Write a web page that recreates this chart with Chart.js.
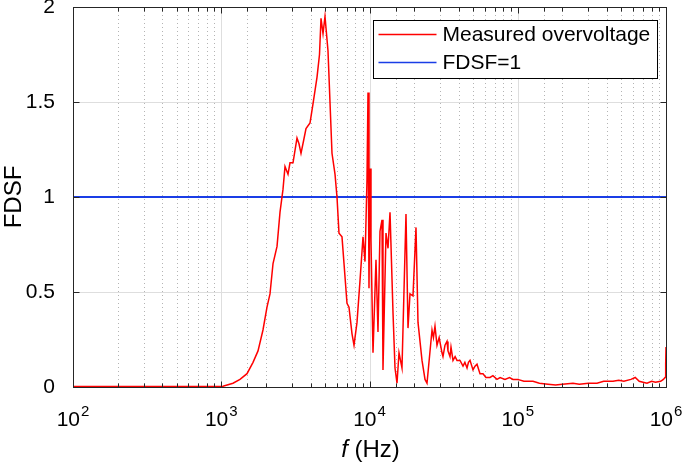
<!DOCTYPE html>
<html>
<head>
<meta charset="utf-8">
<script src="https://cdn.jsdelivr.net/npm/chart.js@4"></script>
<style>
  html, body { margin:0; padding:0; background:#fff; }
  #wrap { position:relative; width:685px; height:462px; }
</style>
</head>
<body>
<div id="wrap"><canvas id="fdsf" width="685" height="462"></canvas></div>
<script>
// ===== FDSF vs frequency =====

const FREQ_HZ = [
  100, 200, 400, 700, 900, 1000, 1027, 1200, 1338, 1492, 1638, 1770, 1912, 2035, 2132, 2235,
  2378, 2491, 2609, 2692, 2820, 2909, 3048, 3243, 3345, 3451, 3600, 3730, 3970, 4158, 4424,
  4600, 4709, 4858, 5010, 5248, 5585, 5852, 6036, 6226, 6523, 6730, 7050, 7272, 7621, 7862,
  8236, 8629, 9042, 9324, 9618, 9770, 9922, 10078, 10235, 10559, 11060, 11410, 11771, 12143,
  12331, 12920, 13332, 13752, 14409, 14860, 15330, 15812, 16564, 17627, 18183, 18756, 19651,
  20590, 21240, 22605, 23683, 24430, 26405, 27000, 27655, 28530, 29500, 30830, 31310, 32300,
  33330, 33840, 34914, 35460, 36580, 37800, 38930, 40790, 42730, 44000, 45480, 46500, 47640,
  49900, 51500, 53100, 55640, 58300, 61000, 64990, 68000, 72440, 76000, 82000, 88000, 92900,
  100000, 110000, 126700, 140000, 160000, 180000, 200000, 235900, 260000, 300000, 342400,
  380000, 438900, 480000, 520000, 580000, 620000, 660000, 700000, 744200, 800000, 850000,
  920000, 960000, 985000, 995000, 1000000
];
const FDSF_VALS = [
  0.002, 0.002, 0.002, 0.002, 0.002, 0.003, 0.004, 0.02, 0.04, 0.07, 0.13, 0.19, 0.30, 0.42, 0.49, 0.65,
  0.74, 0.92, 1.04, 1.16, 1.12, 1.18, 1.18, 1.31, 1.28, 1.23, 1.30, 1.36, 1.39, 1.49, 1.63,
  1.75, 1.94, 1.86, 1.95, 1.77, 1.23, 1.12, 1.00, 0.81, 0.79, 0.65, 0.44, 0.42, 0.28, 0.22,
  0.34, 0.56, 0.79, 0.66, 1.09, 1.55, 0.52, 1.15, 0.77, 0.18, 0.67, 0.29, 0.82, 0.88,
  0.09, 0.81, 0.73, 0.92, 0.39, 0.10, 0.02, 0.18, 0.10, 0.91, 0.31, 0.49, 0.48,
  0.84, 0.34, 0.14, 0.04, 0.02, 0.30, 0.26, 0.32, 0.22, 0.26, 0.18, 0.16, 0.22,
  0.24, 0.19, 0.16, 0.21, 0.14, 0.16, 0.14, 0.14, 0.11, 0.13, 0.10, 0.13, 0.14,
  0.09, 0.11, 0.12, 0.07, 0.07, 0.05, 0.05, 0.06, 0.04, 0.05, 0.04, 0.05, 0.04,
  0.04, 0.03, 0.03, 0.02, 0.015, 0.01, 0.015, 0.02, 0.015, 0.02, 0.02,
  0.03, 0.03, 0.035, 0.03, 0.04, 0.05, 0.03, 0.025, 0.02, 0.03, 0.025,
  0.03, 0.04, 0.05, 0.12, 0.21
];
const LIMIT_FREQ = [100, 1000000];
const LIMIT_VALS = [1, 1];
const SERIES_LABELS = ['Measured overvoltage', 'FDSF=1'];
const Y_TICKS = [0, 0.5, 1, 1.5, 2];

const FONT = '"Liberation Sans", Arial, sans-serif';

const isDecade = v => Math.abs(Math.log10(v) - Math.round(Math.log10(v))) < 1e-9;

// grid, frame, inward ticks, 10^n labels, boxed legend, MATLAB style
const matlabAxes = {
  id: 'matlabAxes',
  beforeDatasetsDraw(chart) {
    const { ctx, chartArea: a, scales: { x, y } } = chart;
    ctx.save();
    ctx.lineWidth = 1;
    // minor verticals (dotted)
    ctx.strokeStyle = '#b4b4b4';
    ctx.setLineDash([1, 3]);
    x.ticks.forEach(t => {
      if (isDecade(t.value)) return;
      const px = Math.round(x.getPixelForValue(t.value)) + 0.5;
      ctx.beginPath(); ctx.moveTo(px, a.top); ctx.lineTo(px, a.bottom); ctx.stroke();
    });
    // major lines (solid, light)
    ctx.setLineDash([]);
    ctx.strokeStyle = '#dedede';
    x.ticks.forEach(t => {
      if (!isDecade(t.value) || t.value <= x.min || t.value >= x.max) return;
      const px = Math.round(x.getPixelForValue(t.value)) + 0.5;
      ctx.beginPath(); ctx.moveTo(px, a.top); ctx.lineTo(px, a.bottom); ctx.stroke();
    });
    y.ticks.forEach(t => {
      if (t.value <= y.min || t.value >= y.max) return;
      const py = Math.round(y.getPixelForValue(t.value)) + 0.5;
      ctx.beginPath(); ctx.moveTo(a.left, py); ctx.lineTo(a.right, py); ctx.stroke();
    });
    ctx.restore();
  },
  afterDatasetsDraw(chart) {
    const { ctx, chartArea: a, scales: { x, y } } = chart;
    ctx.save();
    ctx.strokeStyle = '#262626';
    ctx.lineWidth = 1;
    const L = Math.round(a.left) + 0.5, R = Math.round(a.right) + 0.5;
    const T = Math.round(a.top) + 0.5, B = Math.round(a.bottom) + 0.5;
    ctx.strokeRect(L, T, R - L, B - T);
    ctx.beginPath();
    x.ticks.forEach(t => {
      const px = Math.round(x.getPixelForValue(t.value)) + 0.5;
      const len = isDecade(t.value) ? 6 : 4;
      ctx.moveTo(px, B); ctx.lineTo(px, B - len);
      ctx.moveTo(px, T); ctx.lineTo(px, T + len);
    });
    y.ticks.forEach(t => {
      const py = Math.round(y.getPixelForValue(t.value)) + 0.5;
      ctx.moveTo(L, py); ctx.lineTo(L + 6, py);
      ctx.moveTo(R, py); ctx.lineTo(R - 6, py);
    });
    ctx.stroke();

    // decade labels: "10" with a raised exponent
    ctx.fillStyle = '#000';
    ctx.textBaseline = 'alphabetic';
    ctx.textAlign = 'left';
    x.ticks.forEach(t => {
      if (!isDecade(t.value)) return;
      const px = x.getPixelForValue(t.value);
      const exp = String(Math.round(Math.log10(t.value)));
      ctx.font = '21px ' + FONT; const wb = ctx.measureText('10').width;
      ctx.font = '15px ' + FONT; const we = ctx.measureText(exp).width;
      const sx = px - (wb + 1 + we) / 2;
      ctx.font = '21px ' + FONT; ctx.fillText('10', sx, B + 38);
      ctx.font = '15px ' + FONT; ctx.fillText(exp, sx + wb + 1, B + 28);
    });

    // legend box (top-right, inside the axes)
    const bw = 284, bh = 58;
    const bx = Math.round(a.right) - 9 - bw + 0.5, by = Math.round(a.top) + 13 + 0.5;
    ctx.fillStyle = '#fff';
    ctx.fillRect(bx, by, bw, bh);
    ctx.strokeStyle = '#000';
    ctx.strokeRect(bx, by, bw, bh);
    ctx.font = '21px ' + FONT;
    ctx.textBaseline = 'middle';
    chart.data.datasets.forEach((ds, i) => {
      const ly = by + 14 + i * 28;
      ctx.strokeStyle = ds.borderColor;
      ctx.lineWidth = 1.5;
      ctx.beginPath(); ctx.moveTo(bx + 5, ly); ctx.lineTo(bx + 63, ly); ctx.stroke();
      ctx.fillStyle = '#000';
      ctx.fillText(ds.label, bx + 69, ly + 1);
    });

    // x axis title with italic f
    ctx.fillStyle = '#000';
    ctx.textBaseline = 'alphabetic';
    const it = 'italic 24px ' + FONT, rg = '24px ' + FONT;
    ctx.font = it; const w1 = ctx.measureText('f').width;
    ctx.font = rg; const w2 = ctx.measureText(' (Hz)').width;
    const cx = (a.left + a.right) / 2 + 1;
    const start = cx - (w1 + w2) / 2;
    ctx.font = it; ctx.fillText('f', start, 457);
    ctx.font = rg; ctx.fillText(' (Hz)', start + w1, 457);
    ctx.restore();
  }
};

new Chart(document.getElementById('fdsf'), {
  type: 'line',
  data: {
    datasets: [
      {
        label: SERIES_LABELS[0],
        data: FREQ_HZ.map((f, i) => ({ x: f, y: FDSF_VALS[i] })),
        borderColor: '#ff0000', borderWidth: 1.5, pointRadius: 0, tension: 0, fill: false
      },
      {
        label: SERIES_LABELS[1],
        data: LIMIT_FREQ.map((f, i) => ({ x: f, y: LIMIT_VALS[i] })),
        borderColor: '#1a3de6', borderWidth: 2, pointRadius: 0, fill: false
      }
    ]
  },
  options: {
    responsive: false,
    animation: false,
    layout: { padding: { top: 7, right: 19, left: 0, bottom: 0 } },
    plugins: { legend: { display: false }, tooltip: { enabled: false } },
    scales: {
      x: {
        type: 'logarithmic', min: 100, max: 1000000,
        grid: { display: false }, border: { display: false },
        ticks: { display: false, autoSkip: false },
        afterFit: s => { s.height = 75; s.paddingLeft = 0; s.paddingRight = 0; }
      },
      y: {
        min: 0, max: 2,
        grid: { display: false }, border: { display: false },
        afterBuildTicks: s => { s.ticks = Y_TICKS.map(v => ({ value: v })); },
        ticks: {
          color: '#000', padding: 10,
          font: { family: FONT, size: 21 },
          callback: v => String(v)
        },
        title: {
          display: true, text: 'FDSF', color: '#000', padding: { top: 0, bottom: 0 },
          font: { family: FONT, size: 24 }
        },
        afterFit: s => { s.width = 73; s.paddingTop = 0; s.paddingBottom = 0; }
      }
    }
  },
  plugins: [matlabAxes]
});
</script>
</body>
</html>
